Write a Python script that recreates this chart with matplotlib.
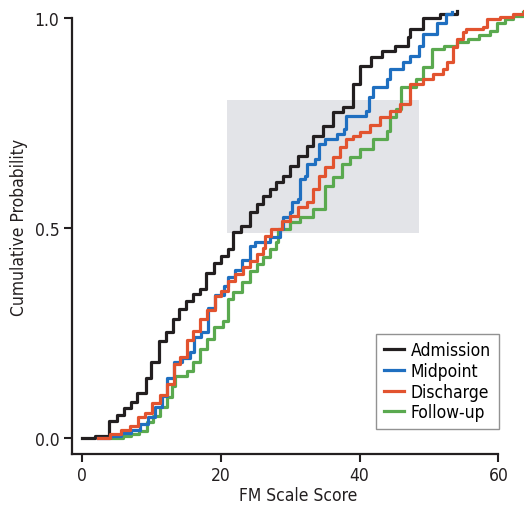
import matplotlib
matplotlib.use("Agg")
import matplotlib.pyplot as plt
from matplotlib import font_manager as fm
from matplotlib.patches import Rectangle
from matplotlib.lines import Line2D

# the original uses a condensed sans; take one if installed
narrow = [f for f in fm.fontManager.ttflist
          if f.stretch in ('condensed', 'semi-condensed') and f.name in ('DejaVu Sans', 'Liberation Sans Narrow')]
if narrow:
    plt.rcParams['font.family'] = [narrow[0].name, 'DejaVu Sans']
    plt.rcParams['font.stretch'] = narrow[0].stretch
else:
    plt.rcParams['font.family'] = ['Liberation Sans', 'DejaVu Sans']

# step positions (FM score) and cumulative probability after each step
admission_x = [0, 1.9, 3.9, 5.0, 6.1, 7.0, 7.9, 9.2, 10.0, 11.1, 12.1, 13.1, 14.0, 15.0,
               16.0, 17.0, 17.9, 19.0, 20.1, 21.0, 21.7, 22.9, 24.2, 25.2, 26.1, 27.1,
               28.0, 29.0, 30.0, 31.1, 32.4, 33.3, 34.7, 36.2, 37.6, 39.0, 39.1, 40.0,
               41.7, 43.3, 45.1, 47.0, 47.3, 49.1, 51.6, 54.0]
admission_y = [0.0, 0.005, 0.042, 0.055, 0.072, 0.087, 0.108, 0.144, 0.182, 0.232, 0.253,
               0.284, 0.308, 0.327, 0.344, 0.356, 0.394, 0.418, 0.435, 0.451, 0.491, 0.506,
               0.539, 0.558, 0.577, 0.594, 0.61, 0.625, 0.649, 0.673, 0.697, 0.720, 0.744,
               0.777, 0.789, 0.808, 0.844, 0.887, 0.908, 0.923, 0.935, 0.955, 0.975, 1.0,
               1.01, 1.018]

midpoint_x = [2.3, 4.0, 5.6, 7.0, 8.3, 9.5, 10.5, 11.5, 12.3, 13.3, 14.4, 15.5, 16.2, 17.2,
              18.2, 19.2, 20.4, 21.1, 22.0, 23.0, 24.2, 24.9, 27.1, 28.5, 29.0, 30.0, 30.2,
              31.2, 31.4, 32.1, 32.4, 33.6, 34.1, 35.0, 36.7, 37.7, 38.1, 41.0, 41.3, 42.0,
              43.9, 44.4, 46.3, 47.3, 48.5, 49.2, 51.1, 52.5, 53.3]
midpoint_y = [0.0, 0.005, 0.012, 0.02, 0.035, 0.05, 0.075, 0.10, 0.143, 0.182, 0.191, 0.205,
              0.240, 0.254, 0.310, 0.341, 0.363, 0.383, 0.40, 0.425, 0.459, 0.468, 0.479,
              0.498, 0.526, 0.538, 0.562, 0.570, 0.617, 0.625, 0.653, 0.665, 0.701, 0.713,
              0.725, 0.736, 0.768, 0.780, 0.812, 0.836, 0.855, 0.879, 0.895, 0.911, 0.935,
              0.963, 0.990, 1.010, 1.016]

discharge_x = [2.3, 4.0, 5.6, 6.9, 8.1, 9.1, 10.1, 11.2, 12.2, 13.2, 14.1, 15.1, 16.0, 17.0,
               18.0, 19.2, 20.1, 21.1, 22.0, 23.2, 24.2, 25.2, 26.1, 26.4, 27.3, 28.8, 30.0,
               31.2, 32.4, 33.3, 34.1, 35.0, 36.2, 37.2, 38.1, 39.1, 40.0, 41.5, 42.9, 44.4,
               45.8, 47.3, 49.1, 50.6, 52.0, 52.6, 53.5, 54.0, 54.9, 55.4, 57.8, 58.3, 60.2,
               62.1, 63.7]
discharge_y = [0.0, 0.010, 0.020, 0.030, 0.050, 0.060, 0.083, 0.102, 0.129, 0.177, 0.194,
               0.234, 0.255, 0.284, 0.305, 0.339, 0.351, 0.375, 0.391, 0.408, 0.423, 0.439,
               0.452, 0.482, 0.498, 0.518, 0.530, 0.550, 0.562, 0.594, 0.625, 0.645, 0.669,
               0.693, 0.713, 0.720, 0.729, 0.745, 0.765, 0.780, 0.796, 0.843, 0.855, 0.867,
               0.879, 0.896, 0.931, 0.951, 0.967, 0.975, 0.979, 0.998, 1.004, 1.010, 1.017]

followup_x = [4.3, 5.9, 7.1, 8.2, 9.3, 10.2, 11.2, 12.2, 13.0, 13.4, 15.1, 16.0, 17.0, 18.0,
              19.0, 20.3, 21.1, 21.8, 23.0, 24.2, 25.2, 26.1, 27.1, 28.0, 28.3, 30.0, 31.4,
              33.3, 35.0, 36.2, 37.4, 38.6, 40.0, 41.9, 43.9, 44.4, 45.3, 46.0, 48.1, 49.1,
              50.4, 52.2, 54.0, 55.6, 57.2, 58.8, 59.8, 61.0, 62.1, 63.5]
followup_y = [0.0, 0.005, 0.010, 0.018, 0.038, 0.053, 0.074, 0.098, 0.125, 0.149, 0.161,
              0.181, 0.213, 0.236, 0.264, 0.280, 0.332, 0.348, 0.371, 0.399, 0.415, 0.431,
              0.451, 0.467, 0.498, 0.514, 0.526, 0.546, 0.601, 0.621, 0.653, 0.669, 0.689,
              0.713, 0.732, 0.764, 0.784, 0.836, 0.855, 0.884, 0.927, 0.935, 0.943, 0.951,
              0.960, 0.970, 0.990, 0.998, 1.006, 1.014]

# shaded region
box_x = [20.85, 48.6]
box_y = [0.488, 0.806]

c_adm = '#231f20'
c_mid = '#1f6fc0'
c_dis = '#e2532f'
c_fol = '#5aa94f'
ink = '#231f20'

fig = plt.figure(figsize=(5.24, 5.06), dpi=100)
ax = fig.add_axes([72 / 524, 51 / 506, 452 / 524, 455 / 506])

ax.add_patch(Rectangle((box_x[0], box_y[0]), box_x[1] - box_x[0], box_y[1] - box_y[0],
                       facecolor='#e3e4e8', edgecolor='none', zorder=0))

lw = 2.3
ax.plot(admission_x, admission_y, drawstyle='steps-post', color=c_adm, lw=lw, zorder=3)
ax.plot(followup_x, followup_y, drawstyle='steps-post', color=c_fol, lw=lw, zorder=3)
ax.plot(midpoint_x, midpoint_y, drawstyle='steps-post', color=c_mid, lw=lw, zorder=3)
ax.plot(discharge_x, discharge_y, drawstyle='steps-post', color=c_dis, lw=lw, zorder=3)

ax.set_xlim(-1.44, 63.7)
ax.set_ylim(-0.0374, 1.046)

for s in ['top', 'right']:
    ax.spines[s].set_visible(False)
ax.spines['left'].set_bounds(-0.0374, 1.0)
ax.spines['bottom'].set_bounds(-1.44, 60)
for s in ['left', 'bottom']:
    ax.spines[s].set_linewidth(1.6)
    ax.spines[s].set_color(ink)

ax.set_xticks([0, 20, 40, 60])
ax.set_yticks([0.0, 0.5, 1.0])
ax.set_yticklabels(['0.0', '0.5', '1.0'])
ax.tick_params(direction='out', length=6, width=1.5, color=ink,
               labelsize=12.5, labelcolor=ink, pad=3)

ax.set_xlabel('FM Scale Score', fontsize=12.5, color=ink, labelpad=1)
ax.set_ylabel('Cumulative Probability', fontsize=12.5, color=ink, labelpad=5)

handles = [Line2D([], [], color=c, lw=lw) for c in [c_adm, c_mid, c_dis, c_fol]]
leg = ax.legend(handles, ['Admission', 'Midpoint', 'Discharge', 'Follow-up'],
                loc='lower right', bbox_to_anchor=(498.7 / 524, (506 - 430) / 506),
                bbox_transform=fig.transFigure, borderaxespad=0,
                fontsize=12.5, frameon=True, fancybox=False, handlelength=1.15,
                handletextpad=0.4, labelspacing=0.15, borderpad=0.45)
leg.get_frame().set_edgecolor('#777777')
leg.get_frame().set_linewidth(1.0)

fig.savefig('out.png', dpi=100)
